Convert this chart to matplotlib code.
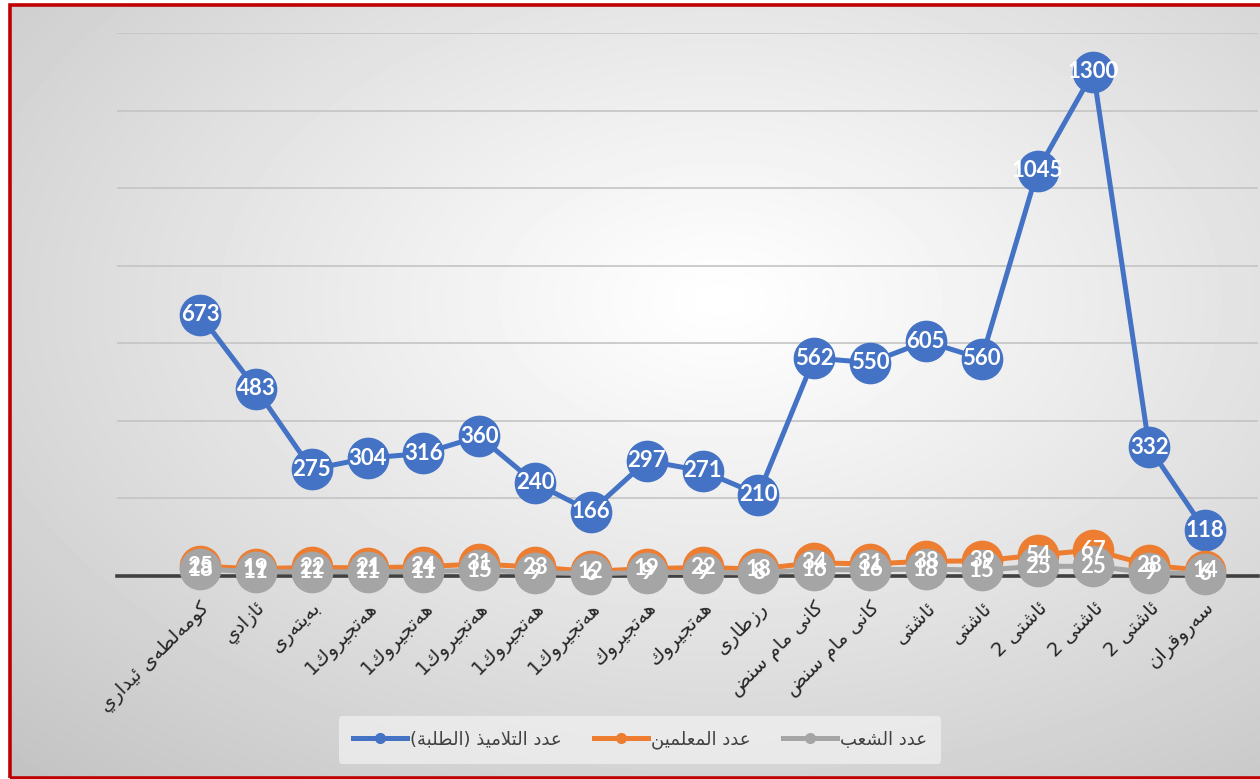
import numpy as np
import matplotlib
matplotlib.use('Agg')
from matplotlib import pyplot as plt
from matplotlib.lines import Line2D
from matplotlib.patches import Rectangle

# school names (Kurdish, as written on the chart)
schools = ['كۆمەڵطەی ئیداري', 'ئازادي', 'بەیتەری', 'هەتجیروك1', 'هەتجیروك1',
           'هەتجیروك1', 'هەتجیروك1', 'هەتجیروك1', 'هەتجیروك', 'هەتجیروك',
           'رزطاری', 'كانی مام سنض', 'كانی مام سنض', 'ئاشتی', 'ئاشتی',
           'ئاشتی 2', 'ئاشتی 2', 'ئاشتی 2', 'سەروقران']
students = [673, 483, 275, 304, 316, 360, 240, 166, 297, 271, 210,
            562, 550, 605, 560, 1045, 1300, 332, 118]
teachers = [25, 19, 22, 21, 24, 31, 23, 12, 19, 22, 18,
            34, 31, 38, 39, 54, 67, 28, 14]
classes = [18, 11, 11, 11, 11, 15, 9, 6, 9, 9, 8,
           16, 16, 18, 15, 25, 25, 9, 6]
series_names = ['عدد التلاميذ (الطلبة)', 'عدد المعلمين', 'عدد الشعب']
colors = ['#4472C4', '#ED7D31', '#A5A5A5']

# matplotlib has no arabic shaping -> small table of presentation forms
# (isolated, final, initial, medial); 2 entries = joins only to the right
AR_FORMS = {
    'ئ': (0xFE89, 0xFE8A, 0xFE8B, 0xFE8C), 'ا': (0xFE8D, 0xFE8E),
    'ب': (0xFE8F, 0xFE90, 0xFE91, 0xFE92), 'ة': (0xFE93, 0xFE94),
    'ت': (0xFE95, 0xFE96, 0xFE97, 0xFE98), 'ج': (0xFE9D, 0xFE9E, 0xFE9F, 0xFEA0),
    'د': (0xFEA9, 0xFEAA), 'ذ': (0xFEAB, 0xFEAC),
    'ر': (0xFEAD, 0xFEAE), 'ز': (0xFEAF, 0xFEB0),
    'س': (0xFEB1, 0xFEB2, 0xFEB3, 0xFEB4), 'ش': (0xFEB5, 0xFEB6, 0xFEB7, 0xFEB8),
    'ض': (0xFEBD, 0xFEBE, 0xFEBF, 0xFEC0), 'ط': (0xFEC1, 0xFEC2, 0xFEC3, 0xFEC4),
    'ع': (0xFEC9, 0xFECA, 0xFECB, 0xFECC), 'ق': (0xFED5, 0xFED6, 0xFED7, 0xFED8),
    'ك': (0xFED9, 0xFEDA, 0xFEDB, 0xFEDC), 'ل': (0xFEDD, 0xFEDE, 0xFEDF, 0xFEE0),
    'م': (0xFEE1, 0xFEE2, 0xFEE3, 0xFEE4), 'ن': (0xFEE5, 0xFEE6, 0xFEE7, 0xFEE8),
    'ه': (0xFEE9, 0xFEEA, 0xFEEB, 0xFEEC), 'و': (0xFEED, 0xFEEE),
    'ي': (0xFEF1, 0xFEF2, 0xFEF3, 0xFEF4), 'ی': (0xFEEF, 0xFEF0, 0xFEF3, 0xFEF4),
    'ە': (0xFEE9, 0xFEEA),
}
AR_ALIAS = {'ۆ': 'و', 'ڵ': 'ل', 'ک': 'ك', 'ێ': 'ی'}


def ar(text):
    s = [AR_ALIAS.get(c, c) for c in text]
    out = []
    i = 0
    while i < len(s):
        c = s[i]
        forms = AR_FORMS.get(c)
        if forms is None:
            out.append(c)
            i += 1
            continue
        prev = s[i - 1] if i > 0 else ''
        join_prev = len(AR_FORMS.get(prev, ())) == 4
        if c == 'ل' and i + 1 < len(s) and s[i + 1] == 'ا':
            out.append(chr(0xFEFC if join_prev else 0xFEFB))
            i += 2
            continue
        nxt = s[i + 1] if i + 1 < len(s) else ''
        join_next = len(forms) == 4 and nxt in AR_FORMS
        if join_prev and join_next:
            g = forms[3]
        elif join_prev:
            g = forms[1]
        elif join_next:
            g = forms[2]
        else:
            g = forms[0]
        out.append(chr(g))
        i += 1
    vis = ''.join(reversed(out))
    return vis.translate(str.maketrans('()', ')('))


plt.rcParams['font.family'] = ['DejaVu Sans']

W, H = 1260, 779
fig = plt.figure(figsize=(W / 100, H / 100), dpi=100)
fig.patch.set_facecolor('white')

# radial grey-white background inside the red frame
bg = fig.add_axes([0, 0, 1, 1], zorder=-5)
yy, xx = np.mgrid[0:H, 0:W]
d = np.sqrt(((xx - 720) / W) ** 2 + ((yy - 300) / H) ** 2)
shade = 1 - 0.24 * np.clip(d / d.max(), 0, 1) ** 1.1
bg.imshow(shade, cmap='gray', vmin=0, vmax=1, extent=[0, W, H, 0], aspect='auto')
bg.set_xlim(0, W)
bg.set_ylim(H, 0)
bg.axis('off')
bg.add_patch(Rectangle((0, 0), 10, H, color='white'))
bg.add_patch(Rectangle((0, 0), W, 4, color='white'))
fig.add_artist(Rectangle((10 / W, 1.5 / H), 1.2, 1 - 6 / H, transform=fig.transFigure,
                         fill=False, edgecolor='#C00000', lw=2.6, zorder=20))

ax = fig.add_axes([117 / W, 1 - 576 / H, (1258 - 117) / W, (576 - 33) / H])
ax.patch.set_alpha(0)
x = np.arange(len(schools))
step = (1205 - 200) / 18
ax.set_xlim(-(200 - 117) / step, 18 + (1258 - 1205) / step)
ax.set_ylim(0, 1400)
ax.set_yticks(np.arange(200, 1401, 200))
ax.yaxis.grid(True, color='#C4C4C4', lw=1.2)
ax.set_axisbelow(True)
for sp in ['left', 'right', 'top']:
    ax.spines[sp].set_visible(False)
ax.spines['bottom'].set_color('#404040')
ax.spines['bottom'].set_linewidth(2.6)
ax.tick_params(axis='y', left=False, labelleft=False)
ax.tick_params(axis='x', length=0, pad=16)
ax.set_xticks(x)
ax.set_xticklabels([ar(s) for s in schools], rotation=45, ha='right',
                   rotation_mode='anchor', fontsize=14, color='#262626')

for vals, col, z in zip([students, teachers, classes], colors, [3, 4, 5]):
    ax.plot(x, vals, color=col, lw=3.6, marker='o', ms=29, mec=col, mfc=col,
            zorder=z, clip_on=False)
for vals in [students, teachers, classes]:
    for xi, v in zip(x, vals):
        ax.text(xi, v, str(v), ha='center', va='center', color='white',
                fontsize=16, fontweight='bold', family=['Lato', 'DejaVu Sans'],
                zorder=10, clip_on=False)

handles = [Line2D([], [], color=c, lw=3.6, marker='o', ms=7) for c in colors]
leg = fig.legend(handles, [ar(n) for n in series_names], loc='center',
                 bbox_to_anchor=(640 / W, 1 - 740 / H), ncol=3, frameon=True,
                 fontsize=13, handlelength=3.0, handletextpad=0.15,
                 columnspacing=1.8, borderpad=0.8)
leg.get_frame().set_facecolor('#F2F2F2')
leg.get_frame().set_alpha(0.7)
leg.get_frame().set_edgecolor('none')
for t in leg.get_texts():
    t.set_color('#404040')

fig.savefig('out.png', dpi=100)
